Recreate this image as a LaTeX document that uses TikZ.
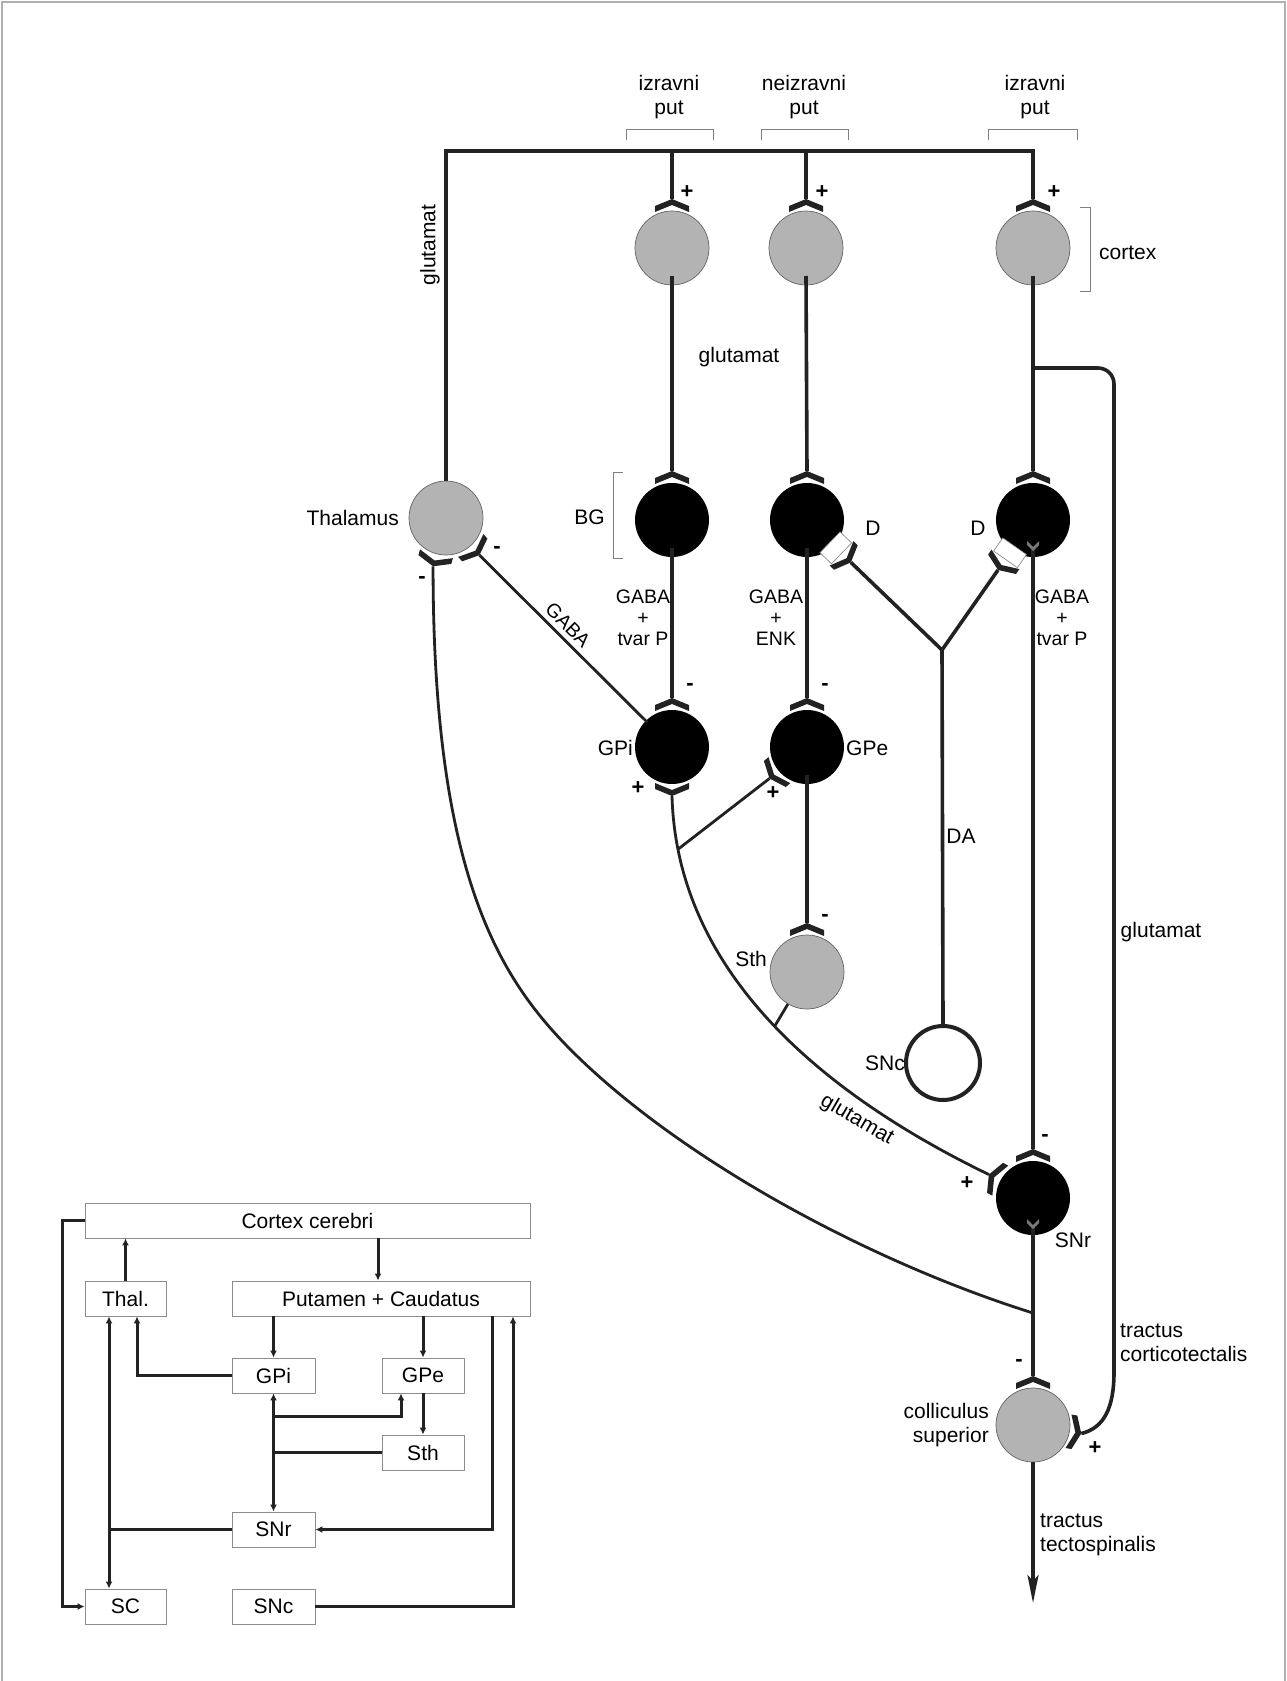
\documentclass[tikz,border=0pt]{standalone}
\usepackage{fontspec}
\setmainfont{Liberation Sans}
\usetikzlibrary{calc,arrows.meta}
\definecolor{ink}{HTML}{222222}
\definecolor{cellgray}{HTML}{B3B3B3}
\definecolor{framegray}{HTML}{B0B0B0}
\definecolor{boxgray}{HTML}{8C8C8C}
\tikzset{
  syn/.pic={\fill[ink] (-17,-7) -- (0,0) -- (17,-7) -- (17,-13) -- (0,-6) -- (-17,-13) -- cycle;},
  dsyn/.pic={\filldraw[fill=white,draw=gray,line width=0.6pt] (-14.5,-29) rectangle (14.5,-13);
             \fill[ink] (-17,-7) -- (0,0) -- (17,-7) -- (17,-13) -- (0,-6) -- (-17,-13) -- cycle;},
  innerv/.pic={\fill[ink!60] (-6,6) -- (0,0) -- (6,6) -- (6,2) -- (0,-4) -- (-6,2) -- cycle;},
  gcell/.style={circle,fill=cellgray,draw=ink!70,line width=0.7pt,minimum size=74pt,inner sep=0pt},
  bcell/.style={circle,fill=black,minimum size=74pt,inner sep=0pt},
  ocell/.style={circle,draw=ink,line width=4pt,fill=white,minimum size=74pt,inner sep=0pt},
  lbl/.style={font=\fontsize{21}{24}\selectfont,inner sep=0pt},
  slbl/.style={font=\fontsize{19.5}{21}\selectfont,inner sep=0pt,align=center},
  sgn/.style={font=\fontsize{22}{24}\selectfont\bfseries,inner sep=0pt},
  axon/.style={draw=ink,line width=3.6pt},
  thinaxon/.style={draw=ink,line width=2.8pt},
  bracketline/.style={draw=gray,line width=0.8pt},
  ibox/.style={draw=boxgray,line width=0.9pt,fill=white,minimum height=35pt,inner sep=0pt,font=\fontsize{21}{24}\selectfont},
  iline/.style={draw=ink,line width=3pt},
  iarr/.style={iline,-{Latex[length=7pt,width=7pt]}},
}
\begin{document}
\begin{tikzpicture}[x=1pt,y=1pt]
\useasboundingbox (0,0) rectangle (1286,-1681);
\draw[framegray,line width=2pt] (1.5,-1681) -- (1.5,-1.5) -- (1284.5,-1.5) -- (1284.5,-1681);

% ---------- cells ----------
\node[gcell] (ctxA) at (672,-248) {};
\node[gcell] (ctxB) at (806,-248) {};
\node[gcell] (ctxC) at (1033,-248) {};
\node[bcell] (bgA) at (672,-520) {};
\node[bcell] (bgB) at (807,-520) {};
\node[bcell] (bgC) at (1033,-520) {};
\node[gcell] (thal) at (446,-518) {};
\node[bcell] (gpi) at (672,-747) {};
\node[bcell] (gpe) at (807,-747) {};
\node[gcell] (sth) at (807,-972) {};
\node[ocell] (snc) at (943,-1063) {};
\node[bcell] (snr) at (1033,-1198) {};
\node[gcell] (coll) at (1033,-1425) {};

% ---------- synapse points ----------
\coordinate (ctxAin) at ($(ctxA)+(90:49)$);
\coordinate (ctxBin) at ($(ctxB)+(90:49)$);
\coordinate (ctxCin) at ($(ctxC)+(90:49)$);
\coordinate (bgAin) at ($(bgA)+(90:49)$);
\coordinate (bgBin) at ($(bgB)+(90:49)$);
\coordinate (bgCin) at ($(bgC)+(90:49)$);
\coordinate (gpiin) at ($(gpi)+(90:49)$);
\coordinate (gpein) at ($(gpe)+(90:49)$);
\coordinate (sthin) at ($(sth)+(90:49)$);
\coordinate (snrin) at ($(snr)+(90:49)$);
\coordinate (collin) at ($(coll)+(90:49)$);
\coordinate (gpiout) at ($(gpi)+(-90:49)$);
\coordinate (gpeplus) at ($(gpe)+(-140:49)$);
\coordinate (snrplus) at ($(snr)+(152:50)$);
\coordinate (collplus) at ($(coll)+(-10:49)$);
\coordinate (thalR) at ($(thal)+(-48:50)$);
\coordinate (thalL) at ($(thal)+(-105:50)$);
\coordinate (dB) at ($(bgB)+(-44:61)$);
\coordinate (dC) at ($(bgC)+(-125:61)$);
\coordinate (bar) at (446,-151);
\coordinate (dajn) at (942,-650);
\coordinate (jtc) at ($(snr)+(0,-115)$);
\coordinate (thalmid) at (566,-1045);
\coordinate (jct) at ($(ctxC)+(0,-120)$);
\coordinate (outend) at ($(coll)+(0,-178)$);

% ---------- axons ----------
\draw[axon] (thal.north) -- (thal.north |- bar) -- (bar -| ctxC) -- (ctxCin);
\draw[axon] (bar -| ctxA) -- (ctxAin);
\draw[axon] (bar -| ctxB) -- (ctxBin);
\draw[axon] ($(ctxA)+(0,-28)$) -- (bgAin);
\draw[axon] ($(ctxB)+(0,-28)$) -- (bgBin);
\draw[axon] ($(ctxC)+(0,-28)$) -- (bgCin);
\draw[axon] ($(bgA)+(0,-28)$) -- (gpiin);
\draw[axon] ($(bgB)+(0,-28)$) -- (gpein);
\draw[axon] ($(bgC)+(0,-28)$) -- (snrin);
\draw[axon] ($(gpe)+(0,-28)$) -- (sthin);
\draw[axon] ($(snr)+(0,-28)$) -- (collin);
\draw[axon,-{Stealth[length=28pt,width=11pt,inset=6pt]}] (coll.south) -- (outend);
\draw[axon] (jct) -- (1098,-368) arc[start angle=90,end angle=0,radius=16] -- (1114,-1372)
   .. controls (1114,-1408) and (1104,-1428) .. (collplus);
\draw[axon] (dB) -- (dajn) -- (dC);
\draw[axon] (dajn) -- (snc.north);
\draw[thinaxon] (thalL) .. controls (433,-866) and (496,-973) .. (thalmid)
   .. controls (671,-1153) and (861,-1259) .. (jtc);
\draw[thinaxon] (thalR) -- ($(gpi)+(135:35)$);
\draw[thinaxon] (gpiout) .. controls (677,-980) and (835,-1100) .. (snrplus)
   coordinate[pos=0.1] (jgpe) coordinate[pos=0.5] (jsth);
\draw[thinaxon] (jgpe) -- (gpeplus);
\draw[thinaxon] (sth) -- (jsth);

% ---------- synapse terminals ----------
\foreach \p in {ctxAin,ctxBin,ctxCin,bgAin,bgBin,bgCin,gpiin,gpein,sthin,snrin,collin}
  \pic at (\p) {syn};
\pic[rotate=-180] at (gpiout) {syn};
\pic[rotate=-230] at (gpeplus) {syn};
\pic[rotate=62] at (snrplus) {syn};
\pic[rotate=-100] at (collplus) {syn};
\pic[rotate=-138] at (thalR) {syn};
\pic[rotate=-195] at (thalL) {syn};
\pic[rotate=-134] at (dB) {dsyn};
\pic[rotate=-215] at (dC) {dsyn};
\pic at ($(bgC)+(0,-27)$) {innerv};
\pic at ($(snr)+(0,-27)$) {innerv};

% ---------- brackets ----------
\draw[bracketline] (626,-140) |- (713,-129) -- (713,-140);
\draw[bracketline] (761,-140) |- (848,-129) -- (848,-140);
\draw[bracketline] (988,-140) |- (1077,-129) -- (1077,-140);
\draw[bracketline] (1080,-207) -| (1090,-291) -- (1080,-291);
\draw[bracketline] (623,-472) -| (613,-558) -- (623,-558);

% ---------- labels ----------
\node[lbl,align=center] (tA) at (669,-97) {izravni\\put};
\node[lbl,align=center] (tB) at (804,-97) {neizravni\\put};
\node[lbl,align=center] (tC) at (1035,-97) {izravni\\put};
\node[lbl,anchor=west] (lcortex) at (1099,-253) {cortex};
\node[lbl,rotate=90] (lglu1) at (430,-245) {glutamat};
\node[lbl] (lglu2) at (739,-357) {glutamat};
\node[lbl,anchor=east] (lthal) at (399,-518) {Thalamus};
\node[lbl,anchor=east] (lbg) at (605,-517) {BG};
\node[lbl] (lD1) at (873,-528) {D};
\node[lbl] (lD2) at (978,-528) {D};
\node[slbl] (lgabaA) at (643,-618) {GABA\\+\\tvar P};
\node[slbl] (lgabaB) at (776,-618) {GABA\\+\\ENK};
\node[slbl] (lgabaC) at (1062,-618) {GABA\\+\\tvar P};
\node[slbl,rotate=-45] (lgaba) at (568,-625) {GABA};
\node[lbl,anchor=east] (lgpi) at (633,-748) {GPi};
\node[lbl,anchor=west] (lgpe) at (846,-748) {GPe};
\node[lbl] (lda) at (961,-836) {DA};
\node[lbl,anchor=east] (lsth) at (767,-959) {Sth};
\node[lbl,anchor=east] (lsnc) at (905,-1063) {SNc};
\node[lbl,rotate=-30] (lglu3) at (857,-1120) {glutamat};
\node[lbl] (lsnr) at (1073,-1240) {SNr};
\node[lbl] (lglu4) at (1161,-932) {glutamat};
\node[lbl,align=left,anchor=west] (ltc) at (1120,-1343) {tractus\\corticotectalis};
\node[lbl,align=right,anchor=east] (lcoll) at (989,-1425) {colliculus\\superior};
\node[lbl,align=left,anchor=west] (lts) at (1040,-1535) {tractus\\tectospinalis};

% ---------- signs ----------
\node[sgn] (s1) at (687,-192) {+};
\node[sgn] (s2) at (822,-192) {+};
\node[sgn] (s3) at (1054,-192) {+};
\node[sgn] (s4) at (497,-550) {-};
\node[sgn] (s5) at (422,-580) {-};
\node[sgn] (s6) at (690,-687) {-};
\node[sgn] (s7) at (825,-687) {-};
\node[sgn] (s8) at (638,-788) {+};
\node[sgn] (s9) at (773,-793) {+};
\node[sgn] (s10) at (825,-918) {-};
\node[sgn] (s11) at (1045,-1138) {-};
\node[sgn] (s12) at (967,-1183) {+};
\node[sgn] (s13) at (1019,-1363) {-};
\node[sgn] (s14) at (1095,-1448) {+};

% ---------- inset ----------
\node[ibox,minimum width=445pt] (icortex) at (307.5,-1220.5) {Cortex cerebri};
\node[ibox,minimum width=81pt] (ithal) at (125.5,-1298.5) {Thal.};
\node[ibox,minimum width=298pt] (iput) at (381,-1298.5) {Putamen + Caudatus};
\node[ibox,minimum width=83pt] (igpi) at (273.5,-1375.5) {GPi};
\node[ibox,minimum width=82pt] (igpe) at (423,-1375.5) {GPe};
\node[ibox,minimum width=82pt] (isth) at (423,-1452.5) {Sth};
\node[ibox,minimum width=83pt] (isnr) at (273.5,-1529.5) {SNr};
\node[ibox,minimum width=81pt] (isc) at (125.5,-1606.5) {SC};
\node[ibox,minimum width=83pt] (isnc) at (273.5,-1606.5) {SNc};

\coordinate (cp) at ([xshift=-3pt]iput.north);
\coordinate (gthal) at ([xshift=11.5pt]ithal.south);
\coordinate (gpeb) at ([xshift=-22pt]igpe.south);
\coordinate (putsnr) at ([xshift=111pt]iput.south);
\coordinate (putsnc) at ([xshift=132pt]iput.south);
\coordinate (snrthal) at ([xshift=-16.5pt]ithal.south);
\coordinate (snrsc) at ([xshift=-16.5pt]isc.north);
\coordinate (jsthi) at (isth.west -| igpi);
\coordinate (jgpei) at ($(igpi.south)+(0,-23)$);
\coordinate (jsnri) at (isnr.west -| snrthal);

\draw[iarr] (ithal.north) -- (ithal.north |- icortex.south);
\draw[iarr] (cp |- icortex.south) -- (cp);
\draw[iarr] (iput.south -| igpi) -- (igpi.north);
\draw[iarr] (iput.south -| igpe) -- (igpe.north);
\draw[iarr] (igpi.west) -| (gthal);
\draw[iarr] (igpe.south) -- (isth.north);
\draw[iline] (isth.west) -- (jsthi);
\draw[iarr] (jsthi) -- (igpi.south);
\draw[iarr] (jsthi) -- (isnr.north);
\draw[iarr] (jgpei) -| (gpeb);
\draw[iarr] (putsnr) |- (isnr.east);
\draw[iarr] (isnc.east) -| (putsnc);
\draw[iline] (isnr.west) -- (jsnri);
\draw[iarr] (jsnri) -- (snrthal);
\draw[iarr] (jsnri) -- (snrsc);
\draw[iarr] (icortex.west) -- ++(-22,0) |- (isc.west);
\end{tikzpicture}
\end{document}
